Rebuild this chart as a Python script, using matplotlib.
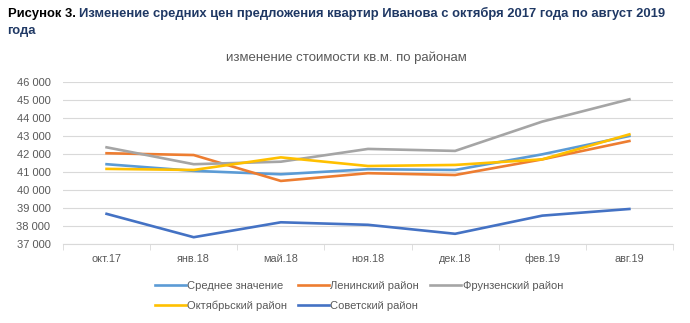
import numpy as np
import matplotlib.pyplot as plt
from matplotlib.ticker import FuncFormatter, FixedLocator

months = ["окт.17", "янв.18", "май.18", "ноя.18", "дек.18", "фев.19", "авг.19"]
series_names = ["Среднее значение", "Ленинский район", "Фрунзенский район",
                "Октябрьский район", "Советский район"]
avg_price = [41430, 41060, 40870, 41150, 41110, 41980, 43000]
leninsky = [42040, 41940, 40500, 40930, 40830, 41700, 42720]
frunzensky = [42370, 41430, 41570, 42280, 42170, 43800, 45040]
oktyabrsky = [41170, 41110, 41810, 41330, 41390, 41700, 43090]
sovetsky = [38670, 37370, 38200, 38060, 37560, 38570, 38940]
colors = ["#5B9BD5", "#ED7D31", "#A5A5A5", "#FFC000", "#4472C4"]

plt.rcParams["font.family"] = ["Liberation Sans", "DejaVu Sans"]

fig = plt.figure(figsize=(6.9, 3.23), dpi=100)
renderer = fig.canvas.get_renderer()

# heading: black "Рисунок 3." followed by dark blue text on the same line
head_size = 9.4
t1 = fig.text(0.011, 0.958, "Рисунок 3.", fontsize=head_size, fontweight="bold",
              color="black", va="center")
bb = t1.get_window_extent(renderer)
x_next = (bb.x1 + 4) / fig.bbox.width
fig.text(x_next, 0.958,
         "Изменение средних цен предложения квартир Иванова с октября 2017 года по август 2019",
         fontsize=head_size, fontweight="bold", color="#1F3864", va="center")
fig.text(0.011, 0.903, "года", fontsize=head_size, fontweight="bold", color="#1F3864", va="center")
fig.text(0.502, 0.82, "изменение стоимости кв.м. по районам", fontsize=9.5, color="#595959",
         ha="center", va="center")

ax = fig.add_axes([0.0913, 0.245, 0.884, 0.501])
x = np.arange(len(months))
lines = []
for vals, name, c in zip([avg_price, leninsky, frunzensky, oktyabrsky, sovetsky], series_names, colors):
    ln, = ax.plot(x, vals, color=c, linewidth=1.9, label=name, solid_joinstyle="round")
    lines.append(ln)

ax.set_xlim(-0.5, len(months) - 0.5)
ax.set_ylim(37000, 46000)
ax.set_yticks(np.arange(37000, 46001, 1000))
ax.yaxis.set_major_formatter(FuncFormatter(lambda v, p: f"{int(v):,}".replace(",", " ")))
ax.grid(axis="y", color="#D9D9D9", linewidth=0.8)
ax.set_axisbelow(True)
ax.set_xticks(x)
ax.set_xticklabels(months)
ax.xaxis.set_minor_locator(FixedLocator(np.arange(-0.5, len(months), 1)))
ax.tick_params(axis="x", which="major", length=0, pad=7, labelsize=7.8, labelcolor="#595959")
ax.tick_params(axis="x", which="minor", length=4, color="#D9D9D9")
ax.tick_params(axis="y", length=0, labelsize=8, labelcolor="#595959", pad=9)
for s in ["top", "right", "left"]:
    ax.spines[s].set_visible(False)
ax.spines["bottom"].set_color("#D9D9D9")

order = [0, 3, 1, 4, 2]
fig.legend([lines[i] for i in order], [series_names[i] for i in order], ncol=3,
           loc="upper left", bbox_to_anchor=(0.21, 0.16), frameon=False, fontsize=8,
           handlelength=2.8, handletextpad=0.1, columnspacing=1.0, labelspacing=0.85,
           labelcolor="#595959")

plt.savefig("out.png")
